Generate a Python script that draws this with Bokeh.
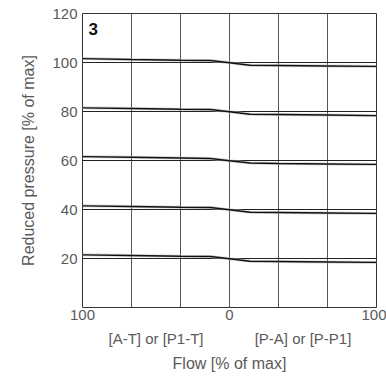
from bokeh.plotting import figure
from bokeh.models import FixedTicker, LinearAxis, Range1d, Label
from bokeh.embed import file_html
from bokeh.resources import INLINE

# Flow [% of max]: negative = [A-T]/[P1-T], positive = [P-A]/[P-P1]
flow = [-100, -67, -33, -13, 0, 14, 33, 67, 100]
p100 = [101.6, 101.2, 100.9, 100.8, 99.9, 98.9, 98.8, 98.6, 98.4]
p80 = [81.5, 81.2, 80.9, 80.8, 79.9, 78.9, 78.8, 78.6, 78.3]
p60 = [61.6, 61.3, 61.0, 60.8, 59.9, 59.0, 58.8, 58.6, 58.4]
p40 = [41.5, 41.2, 40.9, 40.8, 39.9, 38.9, 38.8, 38.6, 38.4]
p20 = [21.5, 21.2, 20.9, 20.8, 19.9, 18.9, 18.8, 18.6, 18.4]
series = [p100, p80, p60, p40, p20]

x_ticks = [-100, 0, 100]
x_tick_labels = {-100: "100", 0: "0", 100: "100"}
dir_ticks = [-50, 50]
dir_labels = {-50: "[A-T] or [P1-T]", 50: "[P-A] or [P-P1]"}
y_ticks = [20, 40, 60, 80, 100, 120]
vgrid = [-66.667, -33.333, 0, 33.333, 66.667]
hgrid = [20, 40, 60, 80, 100]

FONT = "Liberation Sans"
TXT = "#5a5a5a"

p = figure(width=386, height=383, output_backend="svg", toolbar_location=None,
           x_range=Range1d(-100, 100), y_range=Range1d(0, 120),
           x_axis_location=None, y_axis_location=None,
           min_border_left=82, min_border_right=10, min_border_top=13,
           min_border_bottom=76)
p.outline_line_color = "#333333"
p.outline_line_width = 1
p.background_fill_color = "white"
p.border_fill_color = "white"

# y axis
ya = LinearAxis(ticker=FixedTicker(ticks=y_ticks), axis_label="Reduced pressure [% of max]")
ya.axis_line_color = None
ya.major_tick_line_color = None
ya.minor_tick_line_color = None
ya.major_tick_out = 0
ya.minor_tick_out = 0
ya.major_label_standoff = 5
ya.major_label_text_font = FONT
ya.major_label_text_font_size = "15px"
ya.major_label_text_color = TXT
ya.axis_label_text_font = FONT
ya.axis_label_text_font_size = "16px"
ya.axis_label_text_font_style = "normal"
ya.axis_label_text_color = TXT
ya.axis_label_standoff = 12
p.add_layout(ya, "left")

# x axis (numbers)
xa = LinearAxis(ticker=FixedTicker(ticks=x_ticks), major_label_overrides=x_tick_labels)
xa.axis_line_color = None
xa.major_tick_line_color = None
xa.minor_tick_line_color = None
xa.major_tick_out = 0
xa.minor_tick_out = 0
xa.major_label_standoff = 2
xa.major_label_text_font = FONT
xa.major_label_text_font_size = "15px"
xa.major_label_text_color = TXT
p.add_layout(xa, "below")

# x axis (direction labels + title)
xb = LinearAxis(ticker=FixedTicker(ticks=dir_ticks), major_label_overrides=dir_labels,
                axis_label="Flow [% of max]")
xb.axis_line_color = None
xb.major_tick_line_color = None
xb.minor_tick_line_color = None
xb.major_tick_out = 0
xb.minor_tick_out = 0
xb.major_label_standoff = 7
xb.major_label_text_font = FONT
xb.major_label_text_font_size = "15px"
xb.major_label_text_color = TXT
xb.axis_label_text_font = FONT
xb.axis_label_text_font_size = "16px"
xb.axis_label_text_font_style = "normal"
xb.axis_label_text_color = TXT
xb.axis_label_standoff = 5
p.add_layout(xb, "below")

# grids
p.xgrid.ticker = FixedTicker(ticks=vgrid)
p.xgrid.grid_line_color = "#555555"
p.xgrid.grid_line_width = 1
p.ygrid.ticker = FixedTicker(ticks=hgrid)
p.ygrid.grid_line_color = "#222222"
p.ygrid.grid_line_width = 1

for s in series:
    p.line(flow, s, line_color="#bbbbbb", line_width=3, line_alpha=0.6)
    p.line(flow, s, line_color="#111111", line_width=1.4)

p.add_layout(Label(x=-96, y=116.2, text="3", text_baseline="top", text_align="left",
                   text_font=FONT, text_font_style="bold", text_font_size="17px",
                   text_color="#111111"))

open("out.html", "w").write(file_html(p, INLINE))
